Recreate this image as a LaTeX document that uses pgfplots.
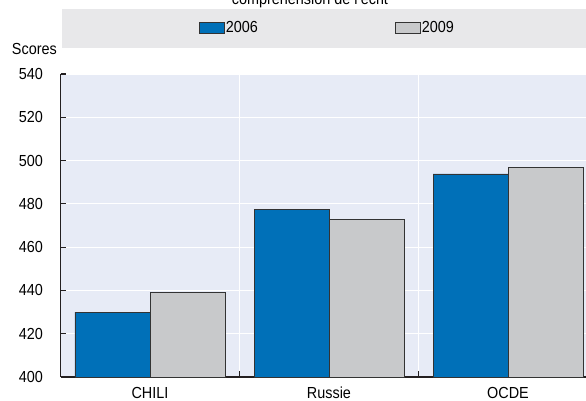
\documentclass[border=0pt]{standalone}
\usepackage{fontspec}
\setmainfont{Liberation Sans}[FakeStretch=0.9]
\usepackage{pgfplots}
\pgfplotsset{compat=1.18}

\definecolor{oecdblue}{RGB}{0,112,184}
\definecolor{oecdgrey}{RGB}{200,201,203}
\definecolor{plotbg}{RGB}{231,235,246}
\definecolor{legbg}{RGB}{232,232,234}
\definecolor{axisdark}{RGB}{35,31,32}

\newcommand{\chartfont}{\fontsize{16bp}{18bp}\selectfont}

\begin{document}
\begin{tikzpicture}[font=\chartfont]
\path[use as bounding box] (0,0) rectangle (586bp,401bp);
\fill[legbg] (62bp,353bp) rectangle (600bp,392bp);
\node[anchor=base] at (310bp,396.5bp) {compréhension de l'écrit};
\node[anchor=base east, inner sep=0pt] at (57bp,346bp) {Scores};
\begin{axis}[
    at={(60.5bp,24bp)}, anchor=south west,
    scale only axis,
    width=537bp, height=303bp,
    ybar=0pt,
    bar width=75bp,
    xmin=-0.5, xmax=2.5,
    ymin=400, ymax=540,
    xtick={0,1,2},
    xticklabels={CHILI, Russie, OCDE},
    minor xtick={0.5,1.5},
    ytick={400,420,...,540},
    /pgf/number format/assume math mode=true,
    axis x line*=bottom,
    axis y line*=left,
    axis line style={line width=1.6bp, draw=axisdark, -},
    axis background/.style={fill=plotbg},
    ymajorgrids, xminorgrids,
    major grid style={white, line width=0.9bp},
    minor grid style={white, line width=0.9bp},
    major x tick style={draw=none},
    minor x tick style={draw=axisdark, line width=1.2bp},
    minor tick length=6bp,
    major y tick style={draw=axisdark, line width=1.2bp},
    major tick length=5bp,
    tick align=inside,
    yticklabel style={anchor=east, inner sep=0pt, xshift=-17.5bp},
    xticklabel style={anchor=base, inner sep=0pt, yshift=-21bp},
    every tick label/.append style={font=\chartfont},
    legend style={
        at={(axis description cs:0.2579,1.1535)}, anchor=west,
        draw=none, fill=none, inner sep=0pt, outer sep=0pt,
        font=\chartfont,
        nodes={inner sep=1bp},
        legend columns=2,
        /tikz/every even column/.append style={column sep=136bp},
    },
    legend image code/.code={\draw[#1] (0bp,-5.5bp) rectangle (25bp,5.5bp);},
]
\addplot[fill=oecdblue, draw=black!80, line width=0.9bp] coordinates {
    (0,430.0) (1,477.4) (2,493.8)
};
\addplot[fill=oecdgrey, draw=black!80, line width=0.9bp] coordinates {
    (0,438.9) (1,472.9) (2,496.8)
};
\legend{2006, 2009}
\end{axis}
\end{tikzpicture}
\end{document}
